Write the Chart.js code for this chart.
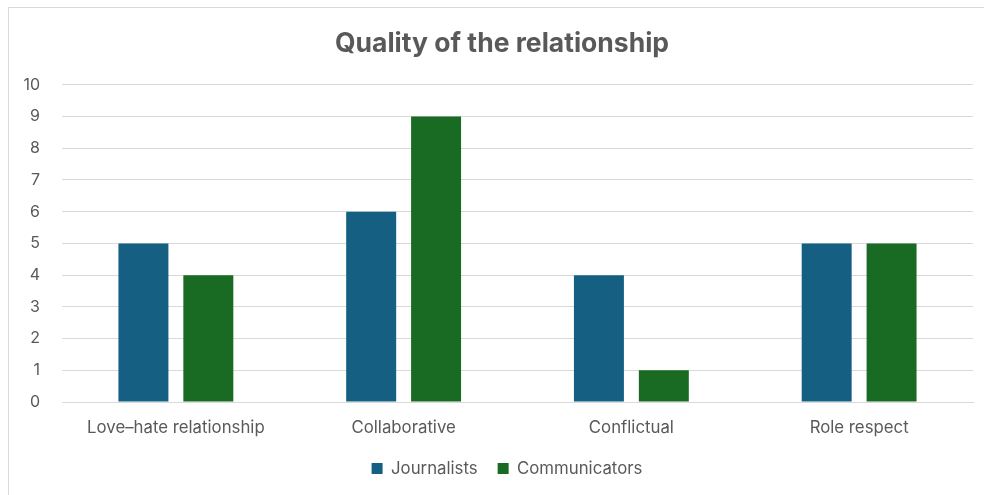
<!DOCTYPE html>
<html>
<head>
<meta charset="utf-8">
<script src="https://cdn.jsdelivr.net/npm/chart.js@4.4.1/dist/chart.umd.min.js"></script>
<style>
  body { margin: 0; background: #fff; width: 984px; height: 495px; overflow: hidden; position: relative; }
  #frame { position: absolute; left: 8px; top: 7px; width: 990px; height: 500px; border: 1px solid #d9d9d9; box-sizing: border-box; }
  #wrap { position: absolute; left: 9px; top: 8px; width: 975px; height: 487px; }
</style>
</head>
<body>
<div id="frame"></div>
<div id="wrap"><canvas id="chart" width="975" height="487"></canvas></div>
<script>
// chart data
const categories = ['Love\u2013hate relationship', 'Collaborative', 'Conflictual', 'Role respect'];
const journalists = [5, 6, 4, 5];
const communicators = [4, 9, 1, 5];
const yTicks = [0, 1, 2, 3, 4, 5, 6, 7, 8, 9, 10];

const fontFamily = 'Inter, "Open Sans", sans-serif';
const textGray = '#595959';

// title and legend sit a bit right of the canvas centre in the original
const shiftBlocks = {
    id: 'shiftBlocks',
    afterLayout(chart) {
        chart.titleBlock.left += 11;
        chart.titleBlock.right += 11;
        chart.legend.left += 16;
        chart.legend.right += 16;
    }
};

const ctx = document.getElementById('chart').getContext('2d');
const chart = new Chart(ctx, {
    type: 'bar',
    data: {
        labels: categories,
        datasets: [
            {
                label: 'Journalists',
                data: journalists,
                backgroundColor: '#156082',
                categoryPercentage: 0.57,
                barPercentage: 0.77
            },
            {
                label: 'Communicators',
                data: communicators,
                backgroundColor: '#196B24',
                categoryPercentage: 0.57,
                barPercentage: 0.77
            }
        ]
    },
    options: {
        responsive: false,
        animation: false,
        layout: {
            padding: { left: 0, right: 11, top: 14, bottom: 8 }
        },
        scales: {
            x: {
                afterFit: (scale) => { scale.height -= 6; },
                grid: { display: false },
                border: { color: '#d9d9d9' },
                ticks: {
                    color: textGray,
                    font: { family: fontFamily, size: 16.8 },
                    padding: 8
                }
            },
            y: {
                min: 0,
                max: 10,
                afterFit: (scale) => { scale.width = 53; },
                afterBuildTicks: (scale) => { scale.ticks = yTicks.map(v => ({ value: v })); },
                grid: { color: '#d9d9d9', drawTicks: false },
                border: { display: false },
                ticks: {
                    color: textGray,
                    font: { family: fontFamily, size: 16 },
                    padding: 22
                }
            }
        },
        plugins: {
            title: {
                display: true,
                text: 'Quality of the relationship',
                color: textGray,
                font: { family: fontFamily, size: 26.5, weight: 'bold' },
                padding: { top: 6, bottom: 25 }
            },
            legend: {
                position: 'bottom',
                labels: {
                    color: textGray,
                    font: { family: fontFamily, size: 16.8 },
                    boxWidth: 11,
                    boxHeight: 11,
                    padding: 20
                }
            },
            tooltip: { enabled: false }
        }
    },
    plugins: [shiftBlocks]
});
</script>
</body>
</html>
